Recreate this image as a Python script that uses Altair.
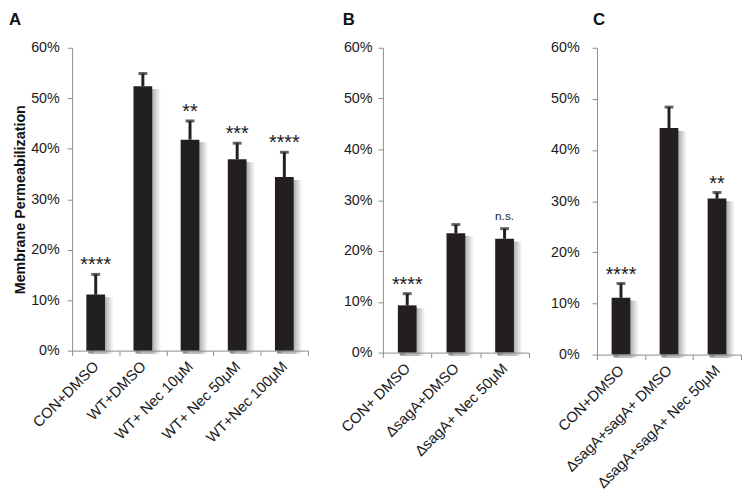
import altair as alt
import pandas as pd

# Panel A
a_labels = ["CON+DMSO", "WT+DMSO", "WT+ Nec 10μM", "WT+ Nec 50μM", "WT+Nec 100μM"]
a_values = [11.1, 52.4, 41.8, 37.9, 34.4]
a_err_hi = [15.1, 54.9, 45.5, 41.1, 39.3]
a_sig = ["****", "", "**", "***", "****"]

# Panel B
b_labels = ["CON+ DMSO", "ΔsagA+DMSO", "ΔsagA+ Nec 50μM"]
b_values = [9.3, 23.5, 22.4]
b_err_hi = [11.6, 25.2, 24.4]
b_sig = ["****", "", "n.s."]

# Panel C
c_labels = ["CON+DMSO", "ΔsagA+sagA+ DMSO", "ΔsagA+sagA+ Nec 50μM"]
c_values = [11.1, 44.3, 30.5]
c_err_hi = [13.9, 48.4, 31.7]
c_sig = ["****", "", "**"]

y_ticks = [0, 10, 20, 30, 40, 50, 60]

FONT = "Liberation Sans"
BAR = "#231f20"


def panel(labels, values, err_hi, sig, letter, width, height, ytitle, title_dx, ylabel_pad):
    df = pd.DataFrame({"cond": labels, "val": values, "err": err_hi, "sig": sig})
    x = alt.X(
        "cond:N",
        sort=labels,
        scale=alt.Scale(paddingInner=0, paddingOuter=0),
        axis=alt.Axis(
            title=None,
            labelAngle=-45,
            labelAlign="right",
            labelBaseline="middle",
            labelFontSize=15,
            labelPadding=8,
            tickBand="extent",
            tickSize=5,
            zindex=1,
        ),
    )
    yax = dict(
        values=y_ticks,
        labelExpr="datum.value + '%'",
        labelFontSize=14.5,
        labelPadding=ylabel_pad,
        tickSize=5,
        grid=False,
    )
    if ytitle:
        yax.update(title=ytitle, titleFontSize=14.5, titleFontWeight="bold",
                   titlePadding=3)
    else:
        yax.update(title=None)
    y = alt.Y("val:Q", scale=alt.Scale(domain=[0, 60], nice=False), axis=alt.Axis(**yax))

    base = alt.Chart(df)
    layers = []
    for off, col, op in [(2, "#444444", 0.6), (4, "#888888", 0.5), (6, "#bdbdbd", 0.45), (8, "#dddddd", 0.4)]:
        layers.append(base.mark_bar(size=19, color=col, opacity=op, xOffset=off, yOffset=3).encode(x=x, y=y))
    layers.append(base.mark_bar(size=19, color=BAR).encode(x=x, y=y))
    layers.append(base.mark_rule(color=BAR, strokeWidth=3).encode(x=x, y="val:Q", y2="err:Q"))
    layers.append(base.mark_tick(color=BAR, size=9, thickness=3).encode(x=x, y="err:Q"))
    layers.append(
        base.transform_filter("datum.sig != 'n.s.' && datum.sig != ''")
        .mark_text(fontSize=20, baseline="alphabetic", dy=-3, color="#1a1a1a", font=FONT)
        .encode(x=x, y="err:Q", text="sig:N")
    )
    layers.append(
        base.transform_filter("datum.sig == 'n.s.'")
        .mark_text(fontSize=12, baseline="alphabetic", dy=-9, color="#1a1a1a", font=FONT)
        .encode(x=x, y="err:Q", text="sig:N")
    )
    return alt.layer(*layers).properties(
        width=width,
        height=height,
        title=alt.TitleParams(letter, anchor="start", fontSize=17, fontWeight="bold",
                              font=FONT, color="#111111", dx=title_dx, offset=11),
    )


pA = panel(a_labels, a_values, a_err_hi, a_sig, "A", 239, 307, "Membrane Permeabilization", -4, 8)
pB = panel(b_labels, b_values, b_err_hi, b_sig, "B", 148, 309, None, 4, 6)
pC = panel(c_labels, c_values, c_err_hi, c_sig, "C", 146, 311, None, 43, 13)

chart = (
    alt.hconcat(pA, alt.hconcat(pB, pC, spacing=20), spacing=30)
    .properties(padding={"left": 0, "top": 0, "right": 0, "bottom": 0})
    .configure_view(stroke=None)
    .configure_axis(
        labelFont=FONT,
        titleFont=FONT,
        labelColor="#1a1a1a",
        titleColor="#111111",
        domainColor="#8c8c8c",
        tickColor="#8c8c8c",
    )
)

chart.save("out.html", embed_options={"renderer": "svg", "actions": False})
